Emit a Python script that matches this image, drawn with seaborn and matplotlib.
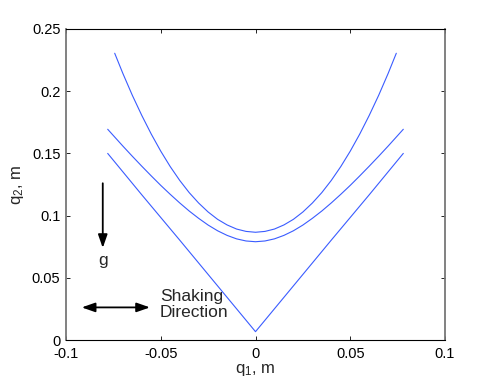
import numpy as np
import pandas as pd
import matplotlib
matplotlib.use("Agg")
import matplotlib.pyplot as plt
import seaborn as sns

# Data
x_top = [-0.0743, -0.070, -0.065, -0.060, -0.055, -0.050, -0.045, -0.040, -0.035,
         -0.030, -0.025, -0.020, -0.015, -0.010, -0.005, 0.0,
         0.005, 0.010, 0.015, 0.020, 0.025, 0.030, 0.035, 0.040, 0.045,
         0.050, 0.055, 0.060, 0.065, 0.070, 0.0743]
y_top = [0.2305, 0.2143, 0.1967, 0.1805, 0.1655, 0.1518, 0.1394, 0.1283, 0.1185,
         0.1101, 0.1029, 0.0970, 0.0925, 0.0892, 0.0873, 0.0866,
         0.0873, 0.0892, 0.0925, 0.0970, 0.1029, 0.1101, 0.1185, 0.1283, 0.1394,
         0.1518, 0.1655, 0.1805, 0.1967, 0.2143, 0.2305]

x_mid = [-0.078, -0.070, -0.065, -0.060, -0.055, -0.050, -0.045, -0.040, -0.035,
         -0.030, -0.025, -0.020, -0.015, -0.010, -0.005, 0.0,
         0.005, 0.010, 0.015, 0.020, 0.025, 0.030, 0.035, 0.040, 0.045,
         0.050, 0.055, 0.060, 0.065, 0.070, 0.078]
y_mid = [0.1694, 0.1559, 0.1477, 0.1397, 0.1319, 0.1243, 0.1171, 0.1102, 0.1037,
         0.0978, 0.0924, 0.0878, 0.0841, 0.0813, 0.0796, 0.0790,
         0.0796, 0.0813, 0.0841, 0.0878, 0.0924, 0.0978, 0.1037, 0.1102, 0.1171,
         0.1243, 0.1319, 0.1397, 0.1477, 0.1559, 0.1694]

x_bot = [-0.078, -0.060, -0.040, -0.020, 0.0, 0.020, 0.040, 0.060, 0.078]
y_bot = [0.1500, 0.1167, 0.0803, 0.0435, 0.0067, 0.0435, 0.0803, 0.1167, 0.1500]

x_ticks = [-0.1, -0.05, 0, 0.05, 0.1]
x_ticklabels = ["-0.1", "-0.05", "0", "0.05", "0.1"]
y_ticks = [0, 0.05, 0.1, 0.15, 0.2, 0.25]
y_ticklabels = ["0", "0.05", "0.1", "0.15", "0.2", "0.25"]

df = pd.concat([
    pd.DataFrame({"q1": x_top, "q2": y_top, "curve": "top"}),
    pd.DataFrame({"q1": x_mid, "q2": y_mid, "curve": "mid"}),
    pd.DataFrame({"q1": x_bot, "q2": y_bot, "curve": "bot"}),
], ignore_index=True)

sns.set_style("ticks")
plt.rcParams["font.family"] = ["Liberation Sans", "DejaVu Sans"]
plt.rcParams["axes.unicode_minus"] = False
plt.rcParams["mathtext.fontset"] = "custom"
plt.rcParams["mathtext.rm"] = "Liberation Sans"
plt.rcParams["mathtext.it"] = "Liberation Sans"

fig = plt.figure(figsize=(4.91, 3.85), dpi=100)
ax = fig.add_axes([66 / 491, 45 / 385, 379 / 491, 311 / 385])

line_color = "#3a5cff"
for name in ["top", "mid", "bot"]:
    sns.lineplot(data=df[df["curve"] == name], x="q1", y="q2", sort=False,
                 color=line_color, linewidth=0.8, ax=ax, legend=False)

ax.set_xlim(-0.1, 0.1)
ax.set_ylim(0, 0.25)
ax.set_xticks(x_ticks)
ax.set_xticklabels(x_ticklabels)
ax.set_yticks(y_ticks)
ax.set_yticklabels(y_ticklabels)
ax.tick_params(direction="in", length=3, width=0.6, top=True, right=True,
               labelsize=10.5, colors="black")
ax.tick_params(axis="x", pad=5)
ax.tick_params(axis="y", pad=4)

for side in ["top", "bottom"]:
    ax.spines[side].set_color("black")
    ax.spines[side].set_linewidth(0.8)
for side in ["left", "right"]:
    ax.spines[side].set_color("#777777")
    ax.spines[side].set_linewidth(1.3)
for s in ax.spines.values():
    s.set_visible(True)

ax.set_xlabel("q$_1$, m", fontsize=12, labelpad=1)
ax.set_ylabel("q$_2$, m", fontsize=12, labelpad=4)

# Gravity arrow
ax.annotate("", xy=(-0.0806, 0.0740), xytext=(-0.0806, 0.126),
            arrowprops=dict(arrowstyle="-|>,head_length=0.8,head_width=0.28",
                            color="black", lw=1.3, shrinkA=0, shrinkB=0))
ax.text(-0.0806, 0.0643, "g", fontsize=12.5, ha="center", va="center")

# Shaking direction arrow
ax.annotate("", xy=(-0.0917, 0.0262), xytext=(-0.0557, 0.0262),
            arrowprops=dict(arrowstyle="<|-|>,head_length=0.8,head_width=0.28",
                            color="black", lw=1.3, shrinkA=0, shrinkB=0))
ax.text(-0.0504, 0.0283, "Shaking\nDirection", fontsize=12.5, ha="left",
        va="center", linespacing=1.1)

fig.savefig("out.png", dpi=100)
